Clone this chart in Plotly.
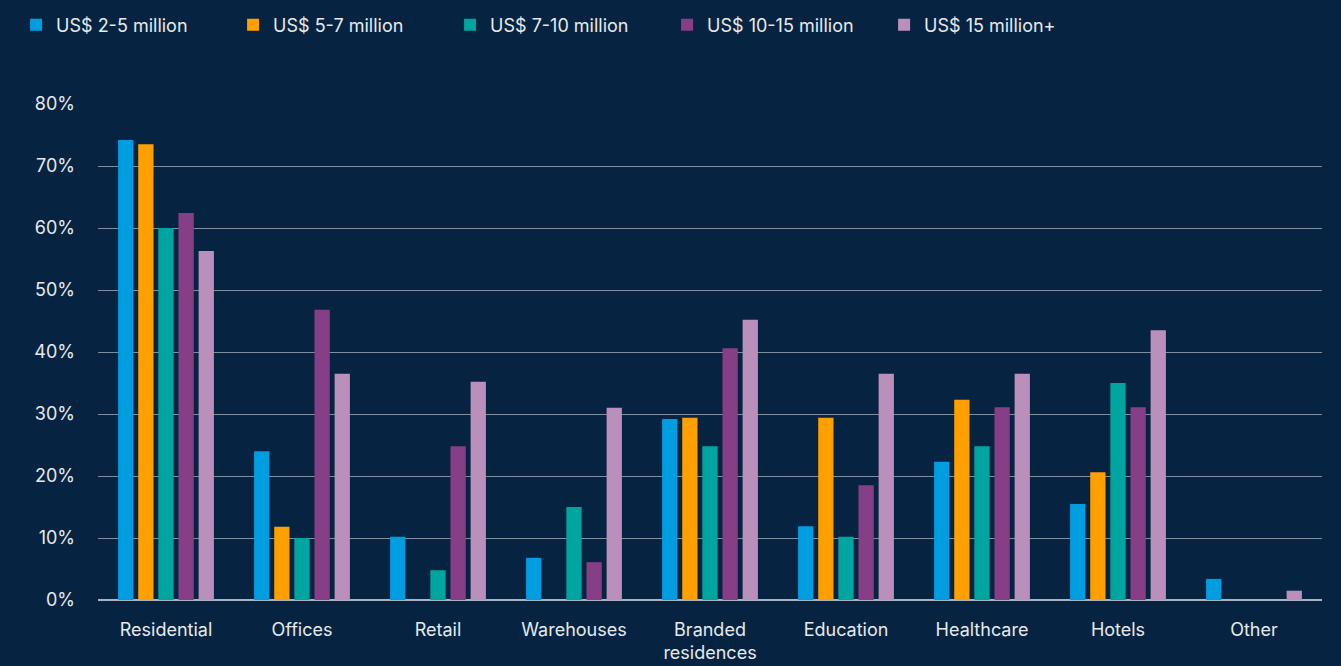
import plotly.graph_objects as go

categories = ["Residential", "Offices", "Retail", "Warehouses", "Branded<br>residences",
              "Education", "Healthcare", "Hotels", "Other"]
series_names = ["US$ 2-5 million", "US$ 5-7 million", "US$ 7-10 million",
                "US$ 10-15 million", "US$ 15 million+"]
v_2_5 = [74.2, 24.0, 10.2, 6.8, 29.2, 11.9, 22.3, 15.5, 3.4]
v_5_7 = [73.5, 11.8, 0, 0, 29.4, 29.4, 32.3, 20.6, 0]
v_7_10 = [60.0, 10.0, 4.8, 15.0, 24.8, 10.2, 24.8, 35.0, 0]
v_10_15 = [62.4, 46.8, 24.8, 6.1, 40.6, 18.5, 31.1, 31.1, 0]
v_15p = [56.3, 36.5, 35.2, 31.0, 45.2, 36.5, 36.5, 43.5, 1.5]
colors = ["#009de0", "#ff9f00", "#00a59f", "#863f87", "#bb8fbb"]

fig = go.Figure()
for name, vals, col in zip(series_names, [v_2_5, v_5_7, v_7_10, v_10_15, v_15p], colors):
    fig.add_trace(go.Bar(x=categories, y=vals, name=name,
                         marker=dict(color=col, line=dict(width=0))))

fig.update_layout(
    width=1341, height=666,
    paper_bgcolor="#062441", plot_bgcolor="#062441",
    font=dict(family="Inter", size=18, color="#e6eaee"),
    barmode="group", bargap=0.26, bargroupgap=0.24,
    margin=dict(l=98, r=19, t=104, b=66, autoexpand=False),
    legend=dict(orientation="h", xref="container", yref="container",
                x=0.012, y=0.99, yanchor="top", xanchor="left",
                font=dict(size=18, color="#e6eaee"), itemwidth=30,
                entrywidth=172, entrywidthmode="pixels",
                bgcolor="rgba(0,0,0,0)"),
    showlegend=True,
)
fig.update_yaxes(range=[0, 80], dtick=10, ticksuffix="%", showgrid=True,
                 gridcolor="#7f8fa0", gridwidth=1, zeroline=True,
                 zerolinecolor="#a9b4bf", zerolinewidth=1.5,
                 ticklabelstandoff=22, showline=False, automargin=False)
fig.update_xaxes(showgrid=False, showline=False, ticks="", ticklabelstandoff=17,
                 automargin=False)

fig.write_html("out.html", config={"displayModeBar": False},
               post_script="document.body.style.margin='0';document.body.style.background='#062441';")
